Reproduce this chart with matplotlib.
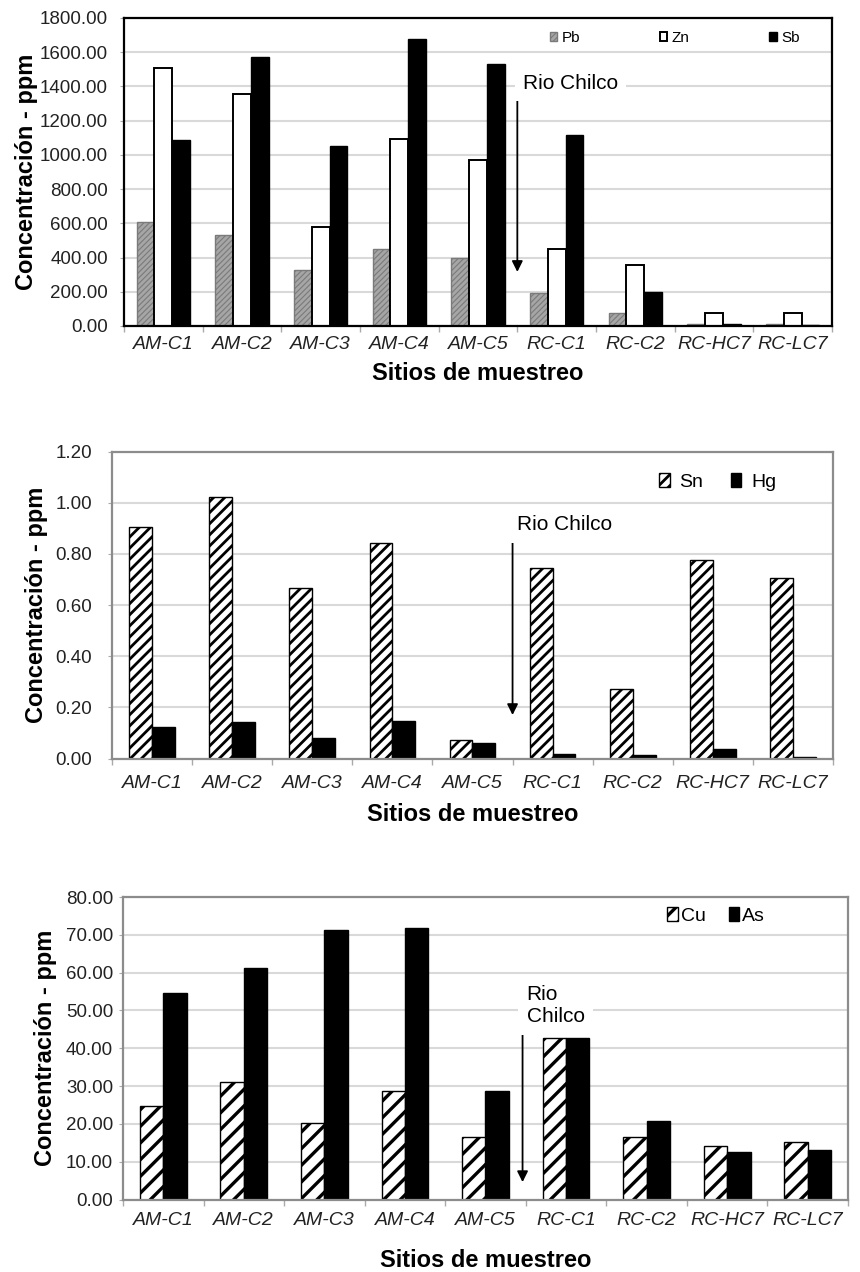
import numpy as np
import matplotlib.pyplot as plt
from matplotlib.ticker import FormatStrFormatter

plt.rcParams['font.family'] = ['Liberation Sans', 'DejaVu Sans']

# Sampling sites (shared by the three panels)
sites = ['AM-C1', 'AM-C2', 'AM-C3', 'AM-C4', 'AM-C5',
         'RC-C1', 'RC-C2', 'RC-HC7', 'RC-LC7']

# Panel 1 - Pb, Zn, Sb (ppm)
pb = [607, 532, 327, 452, 395, 194, 78, 10, 10]
zn = [1507, 1354, 581, 1094, 969, 450, 356, 74, 74]
sb = [1086, 1571, 1053, 1677, 1530, 1115, 200, 14, 8]

# Panel 2 - Sn, Hg (ppm)
sn = [0.906, 1.021, 0.665, 0.844, 0.072, 0.743, 0.270, 0.776, 0.707]
hg = [0.122, 0.144, 0.081, 0.148, 0.059, 0.018, 0.012, 0.038, 0.006]

# Panel 3 - Cu, As (ppm)
cu = [24.8, 31.2, 20.3, 28.8, 16.4, 42.8, 16.4, 14.2, 15.1]
as_ = [54.7, 61.2, 71.3, 71.8, 28.8, 42.8, 20.7, 12.6, 13.2]

W, H = 860, 1272
x = np.arange(len(sites))


def make_axes(fig, left, top, right, bottom):
    return fig.add_axes([left / W, 1 - bottom / H, (right - left) / W, (bottom - top) / H])


def style(ax, ymax, ystep, spine_color, spine_lw, ypad, xpad, ylab_x, xlab_y):
    ax.set_xlim(-0.5, len(sites) - 0.5)
    ax.set_ylim(0, ymax)
    ax.set_yticks(np.arange(0, ymax + ystep / 2, ystep))
    ax.yaxis.set_major_formatter(FormatStrFormatter('%.2f'))
    ax.set_xticks(x)
    ax.set_xticklabels(sites, fontstyle='italic', fontsize=14, color='#222222')
    ax.set_xticks(np.arange(-0.5, len(sites)), minor=True)
    ax.tick_params(axis='x', which='major', length=0, pad=xpad)
    ax.tick_params(axis='x', which='minor', length=4, color='#aaaaaa', width=1)
    ax.tick_params(axis='y', length=3, color='#aaaaaa', labelsize=13.5,
                   labelcolor='#222222', pad=ypad)
    ax.grid(axis='y', color='#d9d9d9', lw=1.5)
    ax.set_axisbelow(True)
    for s in ax.spines.values():
        s.set_color(spine_color)
        s.set_linewidth(spine_lw)
    ax.set_ylabel('Concentración - ppm', fontsize=17, fontweight='bold')
    ax.yaxis.set_label_coords(ylab_x, 0.5)
    ax.set_xlabel('Sitios de muestreo', fontsize=17, fontweight='bold')
    ax.xaxis.set_label_coords(0.5, xlab_y)


def rio_chilco(ax, tx, ty, ay0, ay1, ax_x, text):
    ax.annotate('', xy=(ax_x, ay1), xytext=(ax_x, ay0),
                arrowprops=dict(arrowstyle='-|>', color='black', lw=1.3,
                                mutation_scale=16, shrinkA=0, shrinkB=0))
    ax.text(tx, ty, text, fontsize=15, ha='left', va='center', linespacing=1.25,
            bbox=dict(facecolor='white', edgecolor='none', pad=6))


fig = plt.figure(figsize=(W / 100, H / 100), dpi=100)

# ---- Panel 1: Pb / Zn / Sb
ax1 = make_axes(fig, 124, 18, 832, 326)
w1 = 0.225
plt.rcParams['hatch.linewidth'] = 0.8
b_pb = ax1.bar(x - w1, pb, w1, color='#a6a6a6', edgecolor='#7a7a7a', hatch='//////',
               lw=1.0, label='Pb')
b_zn = ax1.bar(x, zn, w1, color='white', edgecolor='black', lw=1.4, label='Zn')
b_sb = ax1.bar(x + w1, sb, w1, color='black', edgecolor='black', lw=1.0, label='Sb')
style(ax1, 1800, 200, 'black', 1.6, 8.5, 7, -0.121, -0.118)
rio_chilco(ax1, 4.57, 1420, 1344, 316, 4.5, 'Rio Chilco')
ax1.legend(handles=[b_pb, b_zn, b_sb], loc='center', bbox_to_anchor=(0.778, 0.935),
           ncol=3, frameon=False, fontsize=11, handlelength=0.5, handleheight=0.6,
           handletextpad=0.3, columnspacing=5.2, borderaxespad=0)

# ---- Panel 2: Sn / Hg
ax2 = make_axes(fig, 112, 451.5, 833, 758.5)
w2 = 0.285
plt.rcParams['hatch.linewidth'] = 2.0
b_sn = ax2.bar(x - w2 / 2, sn, w2, color='white', edgecolor='black', hatch='///',
               lw=1.0, label='Sn')
b_hg = ax2.bar(x + w2 / 2, hg, w2, color='black', edgecolor='black', lw=1.0, label='Hg')
style(ax2, 1.2, 0.2, '#8c8c8c', 1.6, 11.4, 12, -0.089, -0.146)
rio_chilco(ax2, 4.56, 0.913, 0.862, 0.170, 4.5, 'Rio Chilco')
ax2.legend(handles=[b_sn, b_hg], loc='center', bbox_to_anchor=(0.840, 0.90),
           ncol=2, frameon=False, fontsize=14, handlelength=0.55, handleheight=0.7,
           handletextpad=0.5, columnspacing=1.4, borderaxespad=0)

# ---- Panel 3: Cu / As
ax3 = make_axes(fig, 123, 897, 848, 1199.5)
w3 = 0.29
plt.rcParams['hatch.linewidth'] = 2.4
b_cu = ax3.bar(x - w3 / 2, cu, w3, color='white', edgecolor='black', hatch='//',
               lw=1.0, label='Cu')
b_as = ax3.bar(x + w3 / 2, as_, w3, color='black', edgecolor='black', lw=1.0, label='As')
style(ax3, 80, 10, '#8c8c8c', 1.6, 4.2, 9, -0.091, -0.162)
rio_chilco(ax3, 4.51, 51.3, 51.7, 4.6, 4.46, 'Rio\nChilco')
ax3.legend(handles=[b_cu, b_as], loc='center', bbox_to_anchor=(0.818, 0.937),
           ncol=2, frameon=False, fontsize=14, handlelength=0.55, handleheight=0.7,
           handletextpad=0.15, columnspacing=1.2, borderaxespad=0)

fig.savefig('out.png', dpi=100)
